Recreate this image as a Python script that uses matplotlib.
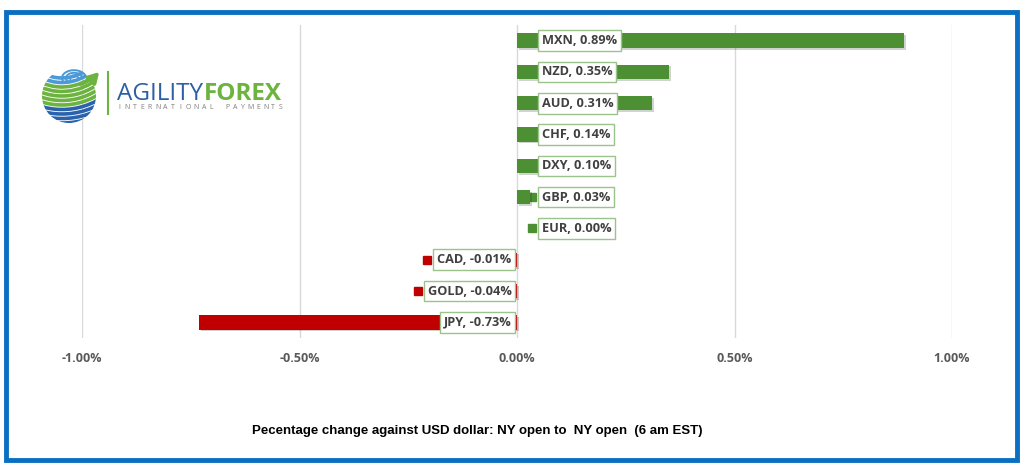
import numpy as np
from matplotlib import pyplot as plt
from matplotlib import patches
from matplotlib import patheffects as pe

# data, bovenaan
currencies = ["MXN", "NZD", "AUD", "CHF", "DXY", "GBP", "EUR", "CAD", "GOLD", "JPY"]
changes = [0.89, 0.35, 0.31, 0.14, 0.10, 0.03, 0.00, -0.01, -0.04, -0.73]
ticks = [-1.0, -0.5, 0.0, 0.5, 1.0]
caption = "Pecentage change against USD dollar: NY open to  NY open  (6 am EST)"

green = "#4d8f33"
red = "#c00000"
lblGray = "#404040"

plt.rcParams['font.family'] = ['Open Sans', 'DejaVu Sans']

W, H = 1024, 466
fig = plt.figure(figsize=(W / 100, H / 100), dpi=100)

# blauwe rand om alles
fig.patches.append(patches.Rectangle((6 / W, 6 / H), 1011 / W, 448 / H, transform=fig.transFigure,
                                     fill=False, edgecolor="#0a6fc2", linewidth=3.5))

ax = fig.add_axes([82 / W, 1 - 338 / H, 870 / W, 313 / H])
y = np.arange(len(currencies))
colors = [green if v >= 0 else red for v in changes]
bars = ax.barh(y, changes, height=0.46, color=colors, zorder=2)
for b in bars:
    b.set_path_effects([pe.SimplePatchShadow(offset=(1.2, -1.2), alpha=0.2), pe.Normal()])

ax.set_xlim(-1.0, 1.0)
ax.set_ylim(len(currencies) - 0.5, -0.5)
ax.set_xticks(ticks)
ax.set_xticklabels(["%.2f%%" % t for t in ticks], fontsize=9, fontweight='bold', color="#595959")
ax.set_yticks([])
ax.tick_params(axis='x', length=0, pad=10)
ax.grid(axis='x', color="#d9d9d9", linewidth=1, zorder=0)
for s in ax.spines.values():
    s.set_visible(False)

# data labels met legend key
labels = []
for i in range(len(currencies)):
    v = changes[i]
    txt = "%s, %.2f%%" % (currencies[i], v)
    if v >= 0:
        t = ax.annotate(txt, xy=(0, i), xytext=(18, 0), textcoords='offset points', ha='left', va='center',
                        fontsize=9.2, fontweight='bold', color=lblGray, zorder=4,
                        bbox=dict(boxstyle='square,pad=0.3', fc='white', ec="#9cc38c", lw=1))
    else:
        t = ax.annotate(txt, xy=(0, i), xytext=(-4, 0), textcoords='offset points', ha='right', va='center',
                        fontsize=9.2, fontweight='bold', color=lblGray, zorder=4,
                        bbox=dict(boxstyle='square,pad=0.3', fc='white', ec="#9cc38c", lw=1))
    labels.append(t)

fig.canvas.draw()
inv = ax.transData.inverted()
for i, t in enumerate(labels):
    bb = t.get_bbox_patch().get_window_extent()
    xk, yk = inv.transform((bb.x0 - 6, (bb.y0 + bb.y1) / 2))
    ax.plot(xk, i, marker='s', markersize=5.5, color=colors[i], zorder=1.5, linestyle='none')

# onderschrift
fig.text(0.466, 1 - 431 / H, caption, ha='center', va='center', fontsize=9.5, fontweight='bold',
         family=['DejaVu Sans Condensed', 'Liberation Sans Narrow', 'Liberation Sans'], color='black')

# logo (benadering)
lax = fig.add_axes([30 / W, 1 - 130 / H, 270 / W, 70 / H])
lax.set_xlim(30, 300)
lax.set_ylim(130, 60)
lax.axis('off')
blue = "#2a62ad"
lblue = "#4a9ad8"
lgreen = "#6cb33f"
globe = patches.Circle((69, 96), 27, transform=lax.transData, fill=False, lw=0)
lax.add_patch(globe)
radii = [42, 46.5, 51, 55.5, 60, 64.5, 69, 73.5, 78, 82.5, 87]
rcols = [lblue, lblue, lgreen, lgreen, lgreen, lgreen, lgreen, blue, blue, blue, blue]
for r, c in zip(radii, rcols):
    a = patches.Arc((62, 36), 2 * r, 2 * r, theta1=20, theta2=170, color=c, lw=2.6)
    lax.add_patch(a)
    a.set_clip_path(globe)
for r in [4, 8, 12]:
    a = patches.Arc((74, 78), 2 * r, 1.3 * r, theta1=150, theta2=360, color=lblue, lw=1.4)
    lax.add_patch(a)
lax.annotate("", xy=(101, 70), xytext=(78, 85),
             arrowprops=dict(arrowstyle='-|>,head_width=0.35,head_length=0.6', color=lgreen, lw=2.6,
                             connectionstyle="arc3,rad=0.15"))
lax.plot([108, 108], [72, 114], color=lgreen, lw=1.5)
t1 = lax.text(117, 100, "AGILITY", color="#2c5fa6", fontsize=17.5, family=['Open Sans', 'DejaVu Sans'],
              va='baseline')
fig.canvas.draw()
bb = t1.get_window_extent()
x1 = lax.transData.inverted().transform((bb.x1, bb.y0))[0]
lax.text(x1 + 1, 100, "FOREX", color=lgreen, fontsize=17.5, fontweight='bold',
         family=['Open Sans', 'DejaVu Sans'], va='baseline')
sub = "INTERNATIONAL PAYMENTS"
for k, ch in enumerate(sub):
    lax.text(119 + k * (162 / (len(sub) - 1)), 109, ch, color="#7f7f7f", fontsize=5, ha='center',
             va='baseline')

plt.savefig("out.png", dpi=100)
